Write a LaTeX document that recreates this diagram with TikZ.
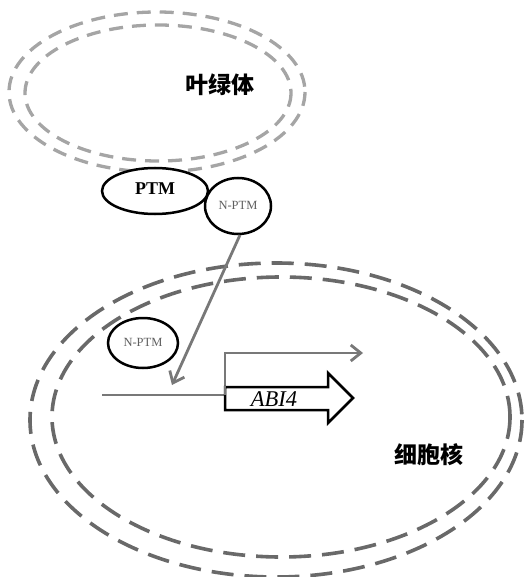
\documentclass[tikz,border=0pt]{standalone}
\usepackage{fontspec}
\setmainfont{Liberation Serif}
\newfontfamily\cjk{Noto Sans CJK SC}
\usetikzlibrary{arrows.meta}
\definecolor{chlgray}{RGB}{165,165,165}
\definecolor{nucgray}{RGB}{105,105,105}
\definecolor{arrgray}{RGB}{120,120,120}
\definecolor{txtgray}{RGB}{95,95,95}
\tikzset{
  chlmem/.style={draw=chlgray, line width=3.3pt, dash pattern=on 14pt off 9pt},
  nucmem/.style={draw=nucgray, line width=3.6pt, dash pattern=on 22pt off 11pt},
  protein/.style={draw=black, line width=2.5pt, fill=white},
  gline/.style={draw=arrgray, line width=2.8pt},
  garrow/.style={gline, -{Straight Barb[length=10pt,width=16pt,line width=2.8pt]}},
  cjklabel/.style={font=\cjk\bfseries\fontsize{23}{23}\selectfont},
  smalllabel/.style={font=\fontsize{12.5}{12.5}\selectfont, text=txtgray},
}
\begin{document}
\begin{tikzpicture}[x=1pt,y=-1pt]
\useasboundingbox (0,0) rectangle (525,577);
% chloroplast
\draw[chlmem] (157,92) ellipse [x radius=148, y radius=80];
\draw[chlmem] (158,93) ellipse [x radius=133, y radius=68];
\node[cjklabel] (chl) at (220,85) {叶绿体};
% nucleus
\draw[nucmem] (276,420) ellipse [x radius=246, y radius=157];
\draw[nucmem] (281,417) ellipse [x radius=229, y radius=140];
\node[cjklabel] (nuc) at (429,455) {细胞核};
% PTM
\draw[protein] (155,191) ellipse [x radius=53, y radius=23];
\node[font=\bfseries\fontsize{18}{18}\selectfont] (ptm) at (155,189) {PTM};
\draw[protein] (238,206) ellipse [x radius=33, y radius=28];
\node[smalllabel] (nptm1) at (238,205) {N-PTM};
\coordinate (nptm1b) at (240,235);
% N-PTM in nucleus
\draw[protein] (143,343) ellipse [x radius=35, y radius=25];
\node[smalllabel] (nptm2) at (143,342) {N-PTM};
% promoter line and transcription arrow
\coordinate (tip) at (172,385);
\draw[garrow] (nptm1b) -- (tip);
\coordinate (pstart) at (102,395);
\coordinate (tss) at (225,395);
\coordinate (tsstop) at (225,353);
\coordinate (tend) at (363,353);
\draw[gline] (pstart) -- (tss);
\draw[garrow] (tss) -- (tsstop) -- (tend);
% ABI4 gene arrow
\draw[black, line width=2.5pt, fill=white, line join=miter]
  (225,387) -- (328,387) -- (328,373) -- (353,398) -- (328,423) -- (328,410) -- (225,410) -- cycle;
\draw[arrgray, line width=2.8pt] (225,386) -- (225,395);
\node[font=\itshape\fontsize{22.5}{22.5}\selectfont] (abi) at (274,399) {ABI4};
\end{tikzpicture}
\end{document}
